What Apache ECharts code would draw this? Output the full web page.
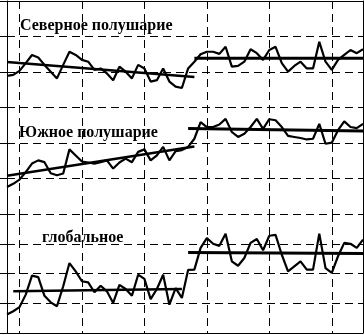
<!DOCTYPE html>
<html><head><meta charset="utf-8">
<script src="https://cdn.jsdelivr.net/npm/echarts@6/dist/echarts.min.js"></script>
<style>html,body{margin:0;padding:0;background:#fff}#c{width:364px;height:335px}</style>
</head><body><div id="c"></div>
<script>
const years = ['1948','1949','1950','1951','1952','1953','1954','1955','1956','1957','1958','1959',
  '1960','1961','1962','1963','1964','1965','1966','1967','1968','1969','1970','1971','1972','1973',
  '1974','1975','1976','1977','1978','1979','1980','1981','1982','1983','1984','1985','1986','1987',
  '1988','1989','1990','1991','1992','1993','1994','1995','1996','1997','1998','1999','2000','2001',
  '2002','2003','2004','2005'];
const labels = ['Северное полушарие', 'Южное полушарие', 'глобальное'];

const north = [3.89,3.92,4.03,4.25,4.48,4.41,4.20,4.01,3.82,4.20,4.57,4.48,4.34,4.29,4.06,4.10,3.96,3.77,4.15,4.01,
  3.82,4.20,4.10,3.73,3.77,4.10,3.73,3.59,3.55,4.10,4.29,4.50,4.57,4.57,4.51,4.71,4.15,4.17,4.29,4.64,
  4.53,4.34,4.62,4.71,4.25,4.01,4.17,4.29,4.10,4.10,4.85,4.29,4.06,4.34,4.48,4.62,4.53,4.64];
const south = [0.76,0.85,0.97,1.18,1.42,1.51,1.46,1.15,1.09,1.14,1.82,1.65,1.48,1.45,1.42,1.46,1.51,1.28,1.45,1.56,
  1.46,1.75,1.82,1.51,1.65,1.89,1.51,1.77,1.80,1.89,2.12,2.59,2.45,2.45,2.52,2.68,2.31,2.17,2.26,2.45,
  2.68,2.40,2.67,2.64,2.45,2.20,2.17,2.14,2.10,2.12,2.54,1.98,2.01,2.36,2.61,2.45,2.42,2.54];
const globalVals = [0.62,0.73,0.87,1.29,1.93,1.88,1.25,1.03,0.90,1.57,2.35,2.07,1.74,1.70,1.37,1.59,1.40,1.01,1.62,1.48,
  1.25,1.96,1.82,1.14,1.48,1.96,0.95,1.51,1.18,2.12,2.13,2.86,3.19,3.00,2.93,3.34,2.41,2.26,2.52,3.03,
  3.16,2.78,3.27,3.30,2.63,2.07,2.24,2.41,2.13,2.13,3.34,2.18,2.02,2.58,3.03,3.00,2.86,3.14];

const northTrendA = [['1948', 4.28], ['1978', 3.86]];
const northTrendB = [['1978', 4.39], ['2005', 4.39]];
const southTrendA = [['1948', 1.08], ['1978', 1.90]];
const southTrendB = [['1977', 2.41], ['2005', 2.34]];
const globalTrendA = [['1949', 1.40], ['1976', 1.48]];
const globalTrendB = [['1977', 2.71], ['2005', 2.67]];

const decade = (i, v) => Number(v) % 10 === 0;
const dashed = { show: true, interval: decade, lineStyle: { color: '#000', width: 1, type: [8, 5] } };
const blackLine = { show: true, onZero: false, lineStyle: { color: '#000', width: 1 } };

function xAx(grid, pos) {
  return { type: 'category', gridIndex: grid, data: years, boundaryGap: false, position: pos,
    axisLine: blackLine, axisTick: { show: false }, axisLabel: { show: false }, splitLine: dashed };
}
function yAx(grid, max, pos, main) {
  return { type: 'value', gridIndex: grid, min: 0, max: max, interval: 1, position: pos,
    axisLine: blackLine,
    axisTick: { show: main, length: 7, lineStyle: { color: '#000', width: 1 } },
    axisLabel: { show: false },
    splitLine: main ? { show: true, showMinLine: grid === 0, showMaxLine: false,
      lineStyle: { color: '#000', width: 1, type: [8, 5] } } : { show: false } };
}
const lineS = (name, data, xi, yi, w) => ({ name, type: 'line', xAxisIndex: xi, yAxisIndex: yi, data,
  showSymbol: false, symbol: 'none', connectNulls: true, lineStyle: { color: '#000', width: w }, z: 3, animation: false });

const titleStyle = { color: '#000', fontFamily: 'Liberation Serif', fontWeight: 'bold', fontSize: 16 };
const chart = echarts.init(document.getElementById('c'), null, { renderer: 'canvas' });
chart.setOption({
  backgroundColor: '#fff',
  animation: false,
  title: [
    { text: labels[0], left: 20, top: 18, textStyle: titleStyle, padding: 0 },
    { text: labels[1], left: 19, top: 125, textStyle: titleStyle, padding: 0 },
    { text: labels[2], left: 42, top: 230, textStyle: titleStyle, padding: 0 }
  ],
  grid: [
    { left: 7, right: 1, top: 1, height: 213 },
    { left: 7, right: 1, top: 214, bottom: 2 }
  ],
  xAxis: [xAx(0, 'top'), xAx(1, 'bottom')],
  yAxis: [yAx(0, 6, 'left', true), yAx(0, 6, 'right', false), yAx(1, 4, 'left', true), yAx(1, 4, 'right', false)],
  series: [
    lineS(labels[0], north, 0, 0, 2.2),
    lineS(labels[1], south, 0, 0, 2.2),
    lineS(labels[2], globalVals, 1, 2, 2.2),
    lineS('trendN1', northTrendA, 0, 0, 2.5),
    lineS('trendN2', northTrendB, 0, 0, 3),
    lineS('trendS1', southTrendA, 0, 0, 2.5),
    lineS('trendS2', southTrendB, 0, 0, 3),
    lineS('trendG1', globalTrendA, 1, 2, 2.5),
    lineS('trendG2', globalTrendB, 1, 2, 3)
  ]
});
</script></body></html>
